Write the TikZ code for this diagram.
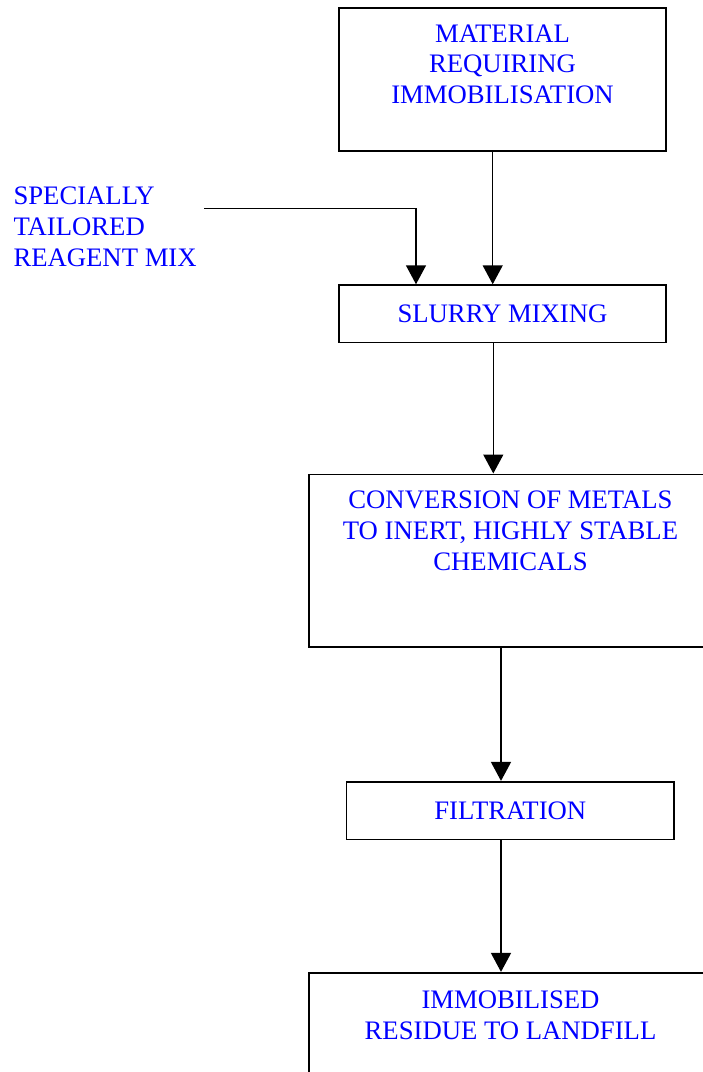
\documentclass[tikz,border=0pt]{standalone}
\usepackage{fontspec}
\setmainfont{Liberation Serif}
\usepackage{tikz}
\usetikzlibrary{arrows.meta,positioning}

\definecolor{labelblue}{RGB}{0,0,255}
\tikzset{
	box/.style={draw, line width=1.6pt, rectangle, inner sep=0pt},
	lbl/.style={text=labelblue, align=center, inner sep=0pt, font={\fontsize{26.7}{30.8}\selectfont}},
	flow/.style={line width=1.5pt, -{Triangle[width=20pt,length=19pt]}}
}

\begin{document}
\begin{tikzpicture}[x=1pt, y=-1pt]
	\useasboundingbox (0,0) rectangle (703,1072);
	\clip (0,0) rectangle (703,1072);

	% Draw boxes
	\node[box, minimum width=327pt, minimum height=143pt] (material) at (502.5,79.5) {};
	\node[lbl, below=17pt of material.north] {MATERIAL\\REQUIRING\\IMMOBILISATION};

	\node[box, lbl, draw=black, minimum width=327pt, minimum height=57.3pt] (slurry) at (502.5,313.7) {SLURRY MIXING};

	\node[box, minimum width=403pt, minimum height=172.4pt] (conversion) at (510.5,560.5) {};
	\node[lbl, below=17.4pt of conversion.north] {CONVERSION OF METALS\\TO INERT, HIGHLY STABLE\\CHEMICALS};

	\node[box, lbl, draw=black, minimum width=327.3pt, minimum height=57.6pt] (filtration) at (510.3,810.5) {FILTRATION};

	\node[box, minimum width=403pt, minimum height=150pt] (residue) at (510.5,1047.7) {};
	\node[lbl, below=19pt of residue.north] {IMMOBILISED\\RESIDUE TO LANDFILL};

	% Reagent feed
	\node[lbl, align=left, anchor=north west] (reagent) at (13.3,186.7) {SPECIALLY\\TAILORED\\REAGENT MIX};
	\coordinate (feed) at (204,208.3);

	% Draw arrows
	\draw[flow] (feed) -| ([xshift=-86.5pt]slurry.north);
	\draw[flow] ([xshift=-9.8pt]material.south) -- ([xshift=-9.8pt]slurry.north);
	\draw[flow] ([xshift=-9.2pt]slurry.south) -- ([xshift=-9.2pt]slurry.south |- conversion.north);
	\draw[flow] ([xshift=-9.5pt]conversion.south) -- ([xshift=-9.5pt]conversion.south |- filtration.north);
	\draw[flow] ([xshift=-9.3pt]filtration.south) -- ([xshift=-9.3pt]filtration.south |- residue.north);

\end{tikzpicture}
\end{document}
